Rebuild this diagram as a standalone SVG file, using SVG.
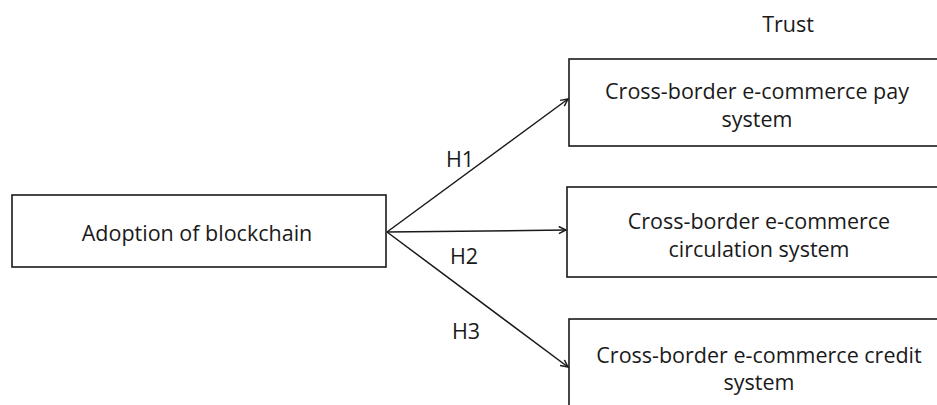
<svg xmlns="http://www.w3.org/2000/svg" width="937" height="405" viewBox="0 0 937 405">
<style>
.box{fill:#fff;stroke:#1a1a1a;stroke-width:1.6}
.t{font-family:"Open Sans","Liberation Sans",sans-serif;font-size:21.5px;fill:#1a1a1a;text-anchor:middle}
.c{stroke:#1a1a1a;stroke-width:1.5;fill:none}
</style>
<defs>
<marker id="ah" viewBox="0 0 10 10" refX="9" refY="5" markerWidth="9" markerHeight="9" markerUnits="userSpaceOnUse" orient="auto">
<path d="M1,1 L9,5 L1,9" fill="none" stroke="#1a1a1a" stroke-width="1.6"/>
</marker>
</defs>
<rect width="937" height="405" fill="#fff"/>
<text class="t" x="788" y="32">Trust</text>
<g id="adoption">
<rect class="box" x="12" y="195" width="374" height="72"/>
<text class="t" x="197" y="241">Adoption of blockchain</text>
</g>
<g id="pay">
<rect class="box" x="569" y="59" width="380" height="87"/>
<text class="t" x="757" y="99">Cross-border e-commerce pay</text>
<text class="t" x="757" y="127">system</text>
</g>
<g id="circulation">
<rect class="box" x="567" y="187" width="380" height="90"/>
<text class="t" x="759" y="229">Cross-border e-commerce</text>
<text class="t" x="759" y="257">circulation system</text>
</g>
<g id="credit">
<rect class="box" x="569" y="319" width="380" height="100"/>
<text class="t" x="759" y="363">Cross-border e-commerce credit</text>
<text class="t" x="759" y="390">system</text>
</g>
<g id="connectors">
<line class="c" x1="387" y1="232" x2="568" y2="99" marker-end="url(#ah)"/>
<line class="c" x1="387" y1="232" x2="566" y2="230" marker-end="url(#ah)"/>
<line class="c" x1="387" y1="232" x2="568" y2="367" marker-end="url(#ah)"/>
<text class="t" x="460" y="167">H1</text>
<text class="t" x="464" y="264">H2</text>
<text class="t" x="466" y="339">H3</text>
</g>
</svg>
